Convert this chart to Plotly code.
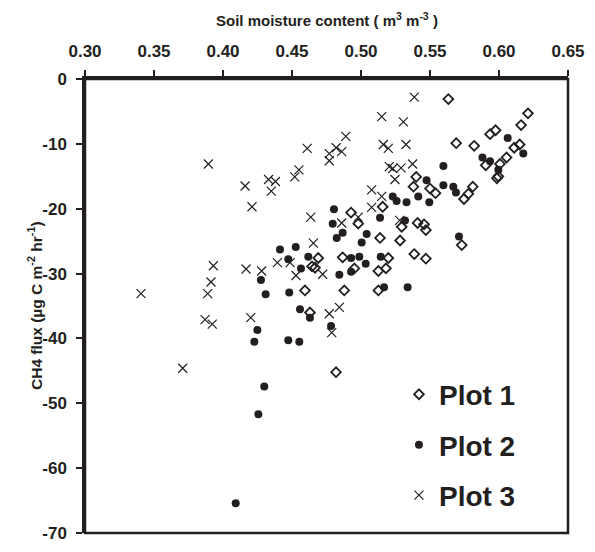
import plotly.graph_objects as go

# ---- data ----
plot1_x = [0.5633, 0.621, 0.616, 0.5975, 0.5935, 0.569, 0.582, 0.615, 0.611, 0.6055,
           0.6007, 0.5904, 0.5995, 0.5985, 0.540, 0.538, 0.550, 0.554, 0.581, 0.5778,
           0.5746, 0.5157, 0.4928, 0.498, 0.541, 0.5457, 0.547, 0.5295, 0.5138, 0.5283,
           0.573, 0.4867, 0.469, 0.5198, 0.5386, 0.547, 0.4952, 0.5126, 0.5181, 0.4667,
           0.4645, 0.4879, 0.5126, 0.4594, 0.463, 0.4819]
plot1_y = [-3.1, -5.3, -7.1, -7.9, -8.5, -9.9, -10.3, -10.1, -10.6, -12.1,
           -13.1, -13.3, -15.0, -15.3, -15.1, -16.6, -16.9, -17.6, -16.6, -17.7,
           -18.5, -19.7, -20.6, -22.3, -22.2, -22.4, -23.3, -22.8, -24.5, -24.9,
           -25.6, -27.5, -27.6, -27.6, -27.0, -27.7, -29.2, -29.6, -29.2, -29.1,
           -28.9, -32.6, -32.6, -32.6, -36.0, -45.2]

plot2_x = [0.6063, 0.588, 0.5935, 0.6176, 0.5995, 0.5597, 0.5475, 0.5597, 0.5669, 0.5688,
           0.523, 0.5258, 0.533, 0.5415, 0.5495, 0.4804, 0.5138, 0.4795, 0.5319, 0.4867,
           0.4824, 0.5041, 0.5005, 0.571, 0.4928, 0.4988, 0.5034, 0.5143, 0.4928, 0.4843,
           0.5167, 0.5338, 0.4783, 0.4413, 0.4527, 0.4473, 0.4618, 0.4565, 0.4275, 0.4309,
           0.448, 0.4558, 0.463, 0.4249, 0.4227, 0.4473, 0.4553, 0.4299, 0.4256, 0.4092]
plot2_y = [-9.1, -12.1, -12.7, -11.5, -14.0, -13.4, -15.6, -16.4, -16.6, -17.5,
           -18.1, -18.8, -19.0, -18.1, -19.0, -20.1, -21.4, -22.3, -21.8, -23.7,
           -24.5, -23.9, -25.2, -24.3, -27.6, -27.4, -28.5, -27.4, -29.7, -30.2,
           -32.1, -32.1, -38.1, -26.3, -25.9, -27.8, -27.4, -29.2, -31.0, -33.2,
           -32.9, -35.5, -36.8, -38.7, -40.5, -40.3, -40.5, -47.4, -51.7, -65.4]

plot3_x = [0.3894, 0.461, 0.477, 0.477, 0.482, 0.486, 0.489, 0.455, 0.452, 0.433,
           0.438, 0.435, 0.416, 0.421, 0.4636, 0.5386, 0.515, 0.5307, 0.5162, 0.5198,
           0.5326, 0.5205, 0.523, 0.529, 0.5374, 0.5246, 0.5077, 0.515, 0.5077, 0.498,
           0.486, 0.528, 0.4722, 0.4843, 0.477, 0.4788, 0.4655, 0.4394, 0.4486, 0.4529,
           0.393, 0.3913, 0.3889, 0.3406, 0.4167, 0.428, 0.387, 0.3922, 0.4201, 0.3708]
plot3_y = [-13.1, -10.7, -11.5, -12.6, -10.6, -11.2, -8.85, -14.0, -15.1, -15.5,
           -15.8, -17.3, -16.5, -19.7, -21.3, -2.8, -5.8, -6.6, -10.1, -10.7,
           -10.1, -13.5, -13.8, -13.7, -13.1, -15.5, -17.1, -18.1, -19.8, -21.3,
           -22.2, -21.8, -30.1, -35.2, -36.2, -39.1, -25.3, -28.3, -28.3, -30.3,
           -28.8, -31.3, -33.1, -33.1, -29.3, -29.6, -37.1, -37.8, -36.8, -44.6]

series_names = ["Plot 1", "Plot 2", "Plot 3"]
x_tick_vals = [0.30, 0.35, 0.40, 0.45, 0.50, 0.55, 0.60, 0.65]
x_tick_text = ["0.30", "0.35", "0.40", "0.45", "0.50", "0.55", "0.60", "0.65"]
y_tick_vals = [0, -10, -20, -30, -40, -50, -60, -70]
y_tick_text = ["0", "-10", "-20", "-30", "-40", "-50", "-60", "-70"]
x_title = "Soil moisture content ( m<sup>3</sup> m<sup>-3</sup> )"
y_title = "CH4 flux (µg C m<sup>-2</sup> hr<sup>-1</sup>)"

FONT = "Liberation Sans, Arial, sans-serif"
INK = "#231f20"

fig = go.Figure()
fig.add_trace(go.Scatter(
    x=plot1_x, y=plot1_y, mode="markers", name=series_names[0], legendgroup="g1",
    marker=dict(symbol="diamond-open", size=7.5, color=INK, line=dict(width=1.8, color=INK))))
fig.add_trace(go.Scatter(
    x=plot2_x, y=plot2_y, mode="markers", name=series_names[1], legendgroup="g2",
    marker=dict(symbol="circle", size=8, color=INK, line=dict(width=0))))
fig.add_trace(go.Scatter(
    x=plot3_x, y=plot3_y, mode="markers", name=series_names[2], legendgroup="g3",
    marker=dict(symbol="x-thin", size=9, color=INK, line=dict(width=1.2, color=INK))))

fig.update_layout(
    width=595, height=552,
    margin=dict(l=85, r=27, t=79, b=9),
    paper_bgcolor="white", plot_bgcolor="white",
    font=dict(family=FONT, color=INK),
    showlegend=True,
    legend=dict(x=0.65, y=0.36, xanchor="left", yanchor="top",
                font=dict(size=28, weight="bold", family=FONT, color=INK),
                bgcolor="rgba(0,0,0,0)", tracegroupgap=11, itemwidth=30),
    shapes=[dict(type="rect", xref="paper", yref="paper", x0=0, x1=1, y0=0, y1=1,
                 line=dict(color=INK, width=2.5), fillcolor="rgba(0,0,0,0)", layer="above")],
    annotations=[
        dict(text=x_title, xref="paper", yref="paper", x=0.5, y=1, yshift=60,
             xanchor="center", yanchor="middle", showarrow=False,
             font=dict(size=15, weight="bold", family=FONT, color=INK)),
        dict(text=y_title, xref="paper", yref="paper", x=0, y=0.5, xshift=-50,
             xanchor="center", yanchor="middle", showarrow=False, textangle=-90,
             font=dict(size=15.5, weight="bold", family=FONT, color=INK)),
    ],
)
fig.update_xaxes(range=[0.30, 0.65], side="top", tickvals=x_tick_vals, ticktext=x_tick_text,
                 showgrid=False, zeroline=False, showline=True, mirror=False,
                 linecolor=INK, linewidth=2.5, ticks="outside", ticklen=6, tickwidth=2,
                 tickcolor=INK, ticklabelstandoff=6, ticklabeloverflow="allow",
                 tickfont=dict(size=17, weight="bold", family=FONT, color=INK))
fig.update_yaxes(range=[-70, 0], tickvals=y_tick_vals, ticktext=y_tick_text,
                 showgrid=False, zeroline=False, showline=True, mirror=False,
                 linecolor=INK, linewidth=2.5, ticks="outside", ticklen=6, tickwidth=2,
                 tickcolor=INK, ticklabelstandoff=6, ticklabeloverflow="allow",
                 tickfont=dict(size=17, weight="bold", family=FONT, color=INK))

fig.write_html("out.html")
